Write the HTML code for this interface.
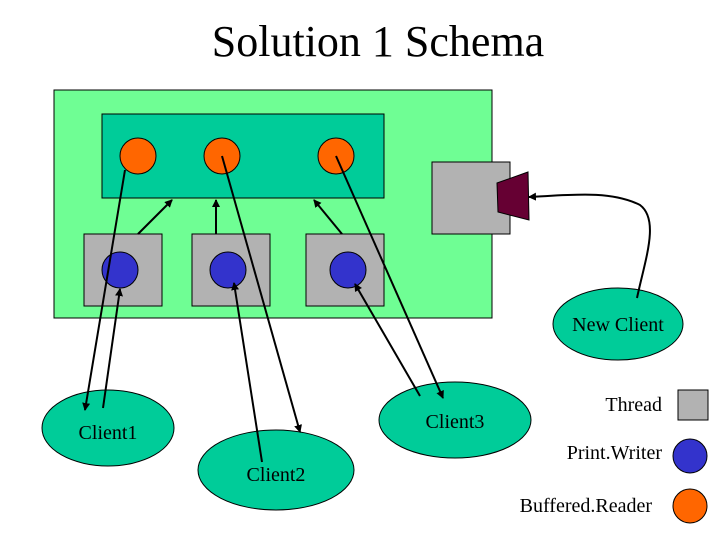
<!DOCTYPE html>
<html><head><style>body{margin:0;background:#fff}</style></head><body>
<svg width="720" height="540" xmlns="http://www.w3.org/2000/svg" font-family="Liberation Serif, serif">
<defs><marker id="a" markerWidth="8" markerHeight="8" refX="7" refY="4" orient="auto" markerUnits="userSpaceOnUse"><path d="M0,0 L8,4 L0,8 z" fill="#000"/></marker></defs>
<text x="378" y="56" font-size="44" text-anchor="middle">Solution 1 Schema</text>
<rect x="54" y="90" width="438" height="228" fill="#6ffe94" stroke="#000"/>
<rect x="102" y="114" width="282" height="84" fill="#00cc99" stroke="#000"/>
<g fill="#ff6600" stroke="#000"><circle cx="138" cy="156" r="18"/><circle cx="222" cy="156" r="18"/><circle cx="336" cy="156" r="18"/></g>
<g fill="#b2b2b2" stroke="#000"><rect x="84" y="234" width="78" height="72"/><rect x="192" y="234" width="78" height="72"/><rect x="306" y="234" width="78" height="72"/><rect x="432" y="162" width="78" height="72"/></g>
<g fill="#3333cc" stroke="#000"><circle cx="120" cy="270" r="18"/><circle cx="228" cy="270" r="18"/><circle cx="348" cy="270" r="18"/></g>
<polygon points="497,183 528,172 529,220 498,212" fill="#660033" stroke="#000"/>
<g fill="#00cc99" stroke="#000"><ellipse cx="618" cy="324" rx="65" ry="36"/><ellipse cx="108" cy="428" rx="66" ry="38"/><ellipse cx="276" cy="470" rx="78" ry="40"/><ellipse cx="455" cy="420" rx="76" ry="38"/></g>
<g stroke="#000" stroke-width="2" fill="none" marker-end="url(#a)">
<line x1="138" y1="234" x2="172" y2="200"/><line x1="216" y1="234" x2="216" y2="200"/><line x1="342" y1="234" x2="314" y2="200"/>
<line x1="125" y1="170" x2="85" y2="410"/><line x1="103" y1="408" x2="120" y2="289"/>
<line x1="222" y1="156" x2="300" y2="432"/><line x1="262" y1="462" x2="234" y2="283"/>
<line x1="420" y1="396" x2="355" y2="284"/><line x1="336" y1="156" x2="443" y2="398"/>
<path d="M637,298 C645,260 660,220 640,205 C610,190 570,195 529,197"/>
</g>
<g font-size="20" fill="#000">
<text x="618" y="331" text-anchor="middle">New Client</text>
<text x="108" y="439" text-anchor="middle">Client1</text>
<text x="276" y="481" text-anchor="middle">Client2</text>
<text x="455" y="428" text-anchor="middle">Client3</text>
<text x="662" y="411" text-anchor="end">Thread</text>
<text x="662" y="459" text-anchor="end">Print.Writer</text>
<text x="652" y="512" text-anchor="end">Buffered.Reader</text>
</g>
<rect x="678" y="390" width="30" height="30" fill="#b2b2b2" stroke="#000"/>
<circle cx="690" cy="456" r="17" fill="#3333cc" stroke="#000"/>
<circle cx="690" cy="506" r="17" fill="#ff6600" stroke="#000"/>
</svg>
</body></html>
